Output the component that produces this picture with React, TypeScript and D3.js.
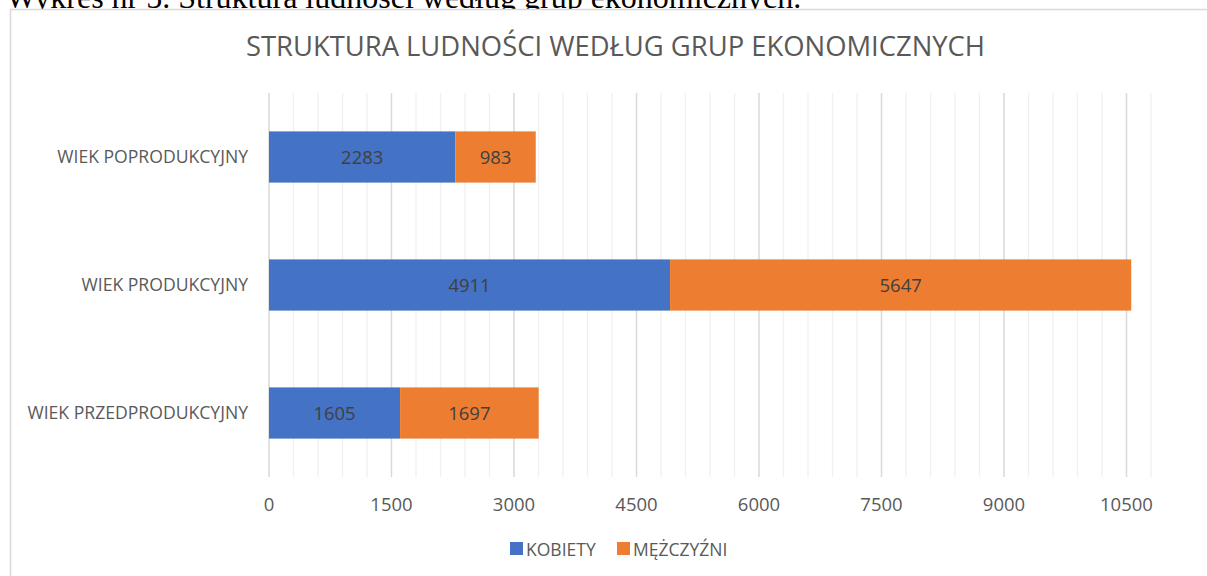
import React from 'react';
import * as d3 from 'd3';

const categories = ['WIEK PRZEDPRODUKCYJNY', 'WIEK PRODUKCYJNY', 'WIEK POPRODUKCYJNY'];
const kobiety = [1605, 4911, 2283];
const mezczyzni = [1697, 5647, 983];
const seriesNames = ['KOBIETY', 'MĘŻCZYŹNI'];
const seriesColors = ['#4472C4', '#ED7D31'];
const tickValues = [0, 1500, 3000, 4500, 6000, 7500, 9000, 10500];

const width = 1207;
const height = 576;
const font = "'Open Sans', sans-serif";

const App = () => {
  const rows = categories.map((c, i) => ({ cat: c, k: kobiety[i], m: mezczyzni[i] }));
  const stack = d3.stack<any>().keys(['k', 'm'])(rows);

  const x = d3.scaleLinear().domain([0, 10800]).range([269, 1151]);
  const y = d3.scaleBand()
    .domain([...categories].reverse())
    .range([93, 477])
    .paddingInner(0.6)
    .paddingOuter(0.3);

  const minor = d3.range(0, 10801, 300);

  return (
    <svg width={width} height={height} style={{ position: 'absolute', left: 0, top: 0 }}>
      <text x={6} y={8} fontFamily="'Liberation Serif', serif" fontSize={32} fill="#000">
        Wykres nr 5. Struktura ludności według grup ekonomicznych.
      </text>
      <rect x={10.5} y={9.5} width={1210} height={580} fill="#fff" stroke="#d9d9d9" strokeWidth={1.5} />
      <text x={615.5} y={56} textAnchor="middle" fontFamily={font} fontSize={27.4} fill="#595959">
        STRUKTURA LUDNOŚCI WEDŁUG GRUP EKONOMICZNYCH
      </text>

      {/* gridlines */}
      {minor.map(v => (
        <line key={'g' + v} x1={x(v)} x2={x(v)} y1={93} y2={477}
          stroke={v % 1500 === 0 ? '#d9d9d9' : '#f0f0f0'} strokeWidth={v % 1500 === 0 ? 1.5 : 1.3} />
      ))}

      {/* bars */}
      {stack.map((s, si) => (
        <g key={s.key}>
          {s.map((d, i) => (
            <g key={i}>
              <rect x={x(d[0])} y={y(rows[i].cat)} width={x(d[1]) - x(d[0])} height={y.bandwidth()}
                fill={seriesColors[si]} />
              <text x={(x(d[0]) + x(d[1])) / 2} y={y(rows[i].cat)! + y.bandwidth() / 2} dy="0.36em"
                textAnchor="middle" fontFamily={font} fontSize={18.5} fill="#404040">
                {d[1] - d[0]}
              </text>
            </g>
          ))}
        </g>
      ))}

      {/* category labels */}
      {categories.map(c => (
        <text key={c} x={248} y={y(c)! + y.bandwidth() / 2} dy="0.36em" textAnchor="end"
          fontFamily={font} fontSize={17.6} fill="#595959">{c}</text>
      ))}

      {/* x tick labels */}
      {tickValues.map(t => (
        <text key={t} x={x(t)} y={511} textAnchor="middle" fontFamily={font} fontSize={18.5} fill="#595959">{t}</text>
      ))}

      {/* legend */}
      {seriesNames.map((n, i) => {
        const lx = i === 0 ? 510 : 617;
        return (
          <g key={n}>
            <rect x={lx} y={542} width={13} height={13} fill={seriesColors[i]} />
            <text x={lx + 16} y={556} fontFamily={font} fontSize={17.5} fill="#595959">{n}</text>
          </g>
        );
      })}
    </svg>
  );
};

export default App;
